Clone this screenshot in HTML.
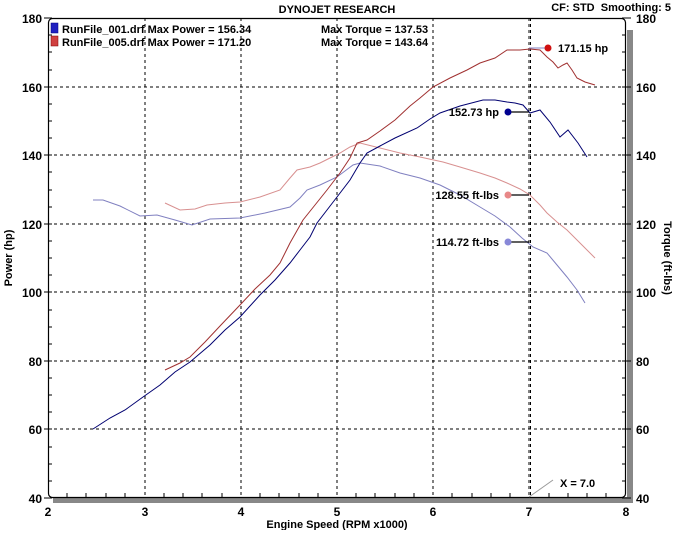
<!DOCTYPE html>
<html><head><style>
body{margin:0;background:#fff;}
svg text{font-family:"Liberation Sans","DejaVu Sans",sans-serif;font-weight:bold;}
</style></head><body>
<svg width="674" height="530" viewBox="0 0 674 530" xmlns="http://www.w3.org/2000/svg">
<rect width="674" height="530" fill="#fff"/>
<rect x="53" y="497" width="580" height="6" fill="#888"/>
<rect x="627" y="30" width="6" height="473" fill="#888"/>
<g stroke="#000" stroke-width="1" stroke-dasharray="3,3">
<line x1="145" y1="18" x2="145" y2="497"/>
<line x1="241" y1="18" x2="241" y2="497"/>
<line x1="337" y1="18" x2="337" y2="497"/>
<line x1="433" y1="18" x2="433" y2="497"/>
<line x1="529" y1="18" x2="529" y2="497"/>
<line x1="48" y1="87" x2="626" y2="87"/>
<line x1="48" y1="155" x2="626" y2="155"/>
<line x1="48" y1="224" x2="626" y2="224"/>
<line x1="48" y1="292" x2="626" y2="292"/>
<line x1="48" y1="361" x2="626" y2="361"/>
<line x1="48" y1="429" x2="626" y2="429"/>
</g>
<line x1="530.5" y1="18" x2="530.5" y2="497" stroke="#000" stroke-dasharray="3,3"/>
<rect x="48.5" y="18.5" width="577" height="479" rx="4" fill="none" stroke="#000" stroke-width="1.2"/>
<g stroke="#000" stroke-width="1">
<path d="M48 35h4M48 52h4M48 70h4M48 104h4M48 121h4M48 138h4M48 172h4M48 190h4M48 207h4M48 241h4M48 258h4M48 275h4M48 310h4M48 327h4M48 344h4M48 378h4M48 395h4M48 412h4M48 447h4M48 464h4M48 481h4"/>
<path d="M622 35h4M622 52h4M622 70h4M622 104h4M622 121h4M622 138h4M622 172h4M622 190h4M622 207h4M622 241h4M622 258h4M622 275h4M622 310h4M622 327h4M622 344h4M622 378h4M622 395h4M622 412h4M622 447h4M622 464h4M622 481h4"/>
<path d="M44 18h8M44 87h8M44 155h8M44 224h8M44 292h8M44 361h8M44 429h8M44 498h8"/>
<path d="M622 18h9M622 87h9M622 155h9M622 224h9M622 292h9M622 361h9M622 429h9M622 498h9"/>
<path d="M67 493v4M86 493v4M106 493v4M125 493v4M164 493v4M183 493v4M202 493v4M222 493v4M260 493v4M279 493v4M299 493v4M318 493v4M356 493v4M375 493v4M395 493v4M414 493v4M452 493v4M472 493v4M491 493v4M510 493v4M549 493v4M568 493v4M587 493v4M606 493v4"/>
</g>
<g fill="none" stroke-width="1">
<polyline stroke="#8080c0" points="93,200 103,200 120,206 140,216 157,215 175,220 192,225 210,219 240,218 265,213 290,207 300,198 307,190 320,185 337,177 353,165 360,163 380,166 400,173 420,178 440,185 460,195 480,207 495,216 510,227 522,238 533,247 547,253 557,265 567,277 577,290 585,303"/>
<polyline stroke="#d89090" points="165,203 180,210 195,209 207,205 225,203 240,202 260,197 280,190 290,178 297,170 310,167 320,163 330,158 340,153 350,147 360,143 380,148 400,153 420,157 443,162 460,167 480,173 495,178 507,183 520,189 530,195 540,205 547,213 557,222 567,230 580,243 595,258"/>
<polyline stroke="#000070" points="93,429 110,418 125,410 143,397 160,385 175,372 190,362 210,345 225,330 240,317 260,295 275,280 290,263 300,250 310,237 317,223 327,210 337,197 350,180 360,163 367,153 380,146 395,138 417,128 430,119 440,113 460,106 483,100 495,100 507,102 515,103 523,105 530,113 540,110 550,122 560,137 568,130 578,143 587,157"/>
<polyline stroke="#a03030" points="165,370 180,363 190,357 205,342 220,326 240,305 255,289 270,275 280,263 290,243 303,220 315,205 327,190 340,173 350,158 357,143 367,140 380,131 395,120 410,106 420,98 433,87 450,78 467,70 480,63 495,58 507,50 520,50 530,49 540,50 547,57 553,62 558,68 563,65 567,63 572,70 577,78 585,82 595,85"/>
</g>
<g stroke="#000" stroke-width="1.3">
<line x1="508" y1="112" x2="529" y2="112"/>
<line x1="508" y1="195" x2="529" y2="195"/>
<line x1="508" y1="242" x2="529" y2="242"/>
<line x1="548" y1="48" x2="529" y2="48" stroke="#8080c0" stroke-width="1"/>
</g>
<circle cx="548" cy="48" r="3.5" fill="#d01010"/>
<circle cx="508" cy="112" r="3.5" fill="#000090"/>
<circle cx="508" cy="195" r="3.5" fill="#e88888"/>
<circle cx="508" cy="242" r="3.5" fill="#8888d8"/>
<g font-size="11" fill="#000">
<text x="558" y="52">171.15 hp</text>
<text x="499" y="116" text-anchor="end">152.73 hp</text>
<text x="499" y="199" text-anchor="end">128.55 ft-lbs</text>
<text x="499" y="246" text-anchor="end">114.72 ft-lbs</text>
<text x="560" y="487">X = 7.0</text>
</g>
<line x1="529" y1="497" x2="553" y2="480" stroke="#999"/>
<rect x="51" y="23" width="7" height="10" fill="#2020c0" stroke="#000080" stroke-width="0.5"/>
<rect x="51" y="36" width="7" height="10" fill="#d04040" stroke="#800000" stroke-width="0.5"/>
<g font-size="11" fill="#000">
<text x="62" y="33">RunFile_001.drf Max Power = 156.34</text>
<text x="321" y="33">Max Torque = 137.53</text>
<text x="62" y="46">RunFile_005.drf Max Power = 171.20</text>
<text x="321" y="46">Max Torque = 143.64</text>
<text x="337" y="13" text-anchor="middle">DYNOJET RESEARCH</text>
<text x="671" y="11" text-anchor="end" xml:space="preserve">CF: STD  Smoothing: 5</text>
</g>
<g font-size="12" fill="#000" style="font-weight:normal">
<text x="42" y="23" text-anchor="end">180</text>
<text x="42" y="92" text-anchor="end">160</text>
<text x="42" y="160" text-anchor="end">140</text>
<text x="42" y="229" text-anchor="end">120</text>
<text x="42" y="297" text-anchor="end">100</text>
<text x="42" y="366" text-anchor="end">80</text>
<text x="42" y="434" text-anchor="end">60</text>
<text x="42" y="503" text-anchor="end">40</text>
<text x="636" y="23">180</text>
<text x="636" y="92">160</text>
<text x="636" y="160">140</text>
<text x="636" y="229">120</text>
<text x="636" y="297">100</text>
<text x="636" y="366">80</text>
<text x="636" y="434">60</text>
<text x="636" y="503">40</text>
<text x="48" y="516" text-anchor="middle">2</text>
<text x="145" y="516" text-anchor="middle">3</text>
<text x="241" y="516" text-anchor="middle">4</text>
<text x="337" y="516" text-anchor="middle">5</text>
<text x="433" y="516" text-anchor="middle">6</text>
<text x="529" y="516" text-anchor="middle">7</text>
<text x="626" y="516" text-anchor="middle">8</text>
</g>
<text x="337" y="528" font-size="11" text-anchor="middle">Engine Speed (RPM x1000)</text>
<text transform="translate(12,258) rotate(-90)" font-size="11" text-anchor="middle">Power (hp)</text>
<text transform="translate(664,258) rotate(90)" font-size="11" text-anchor="middle">Torque (ft-lbs)</text>
</svg>
</body></html>
